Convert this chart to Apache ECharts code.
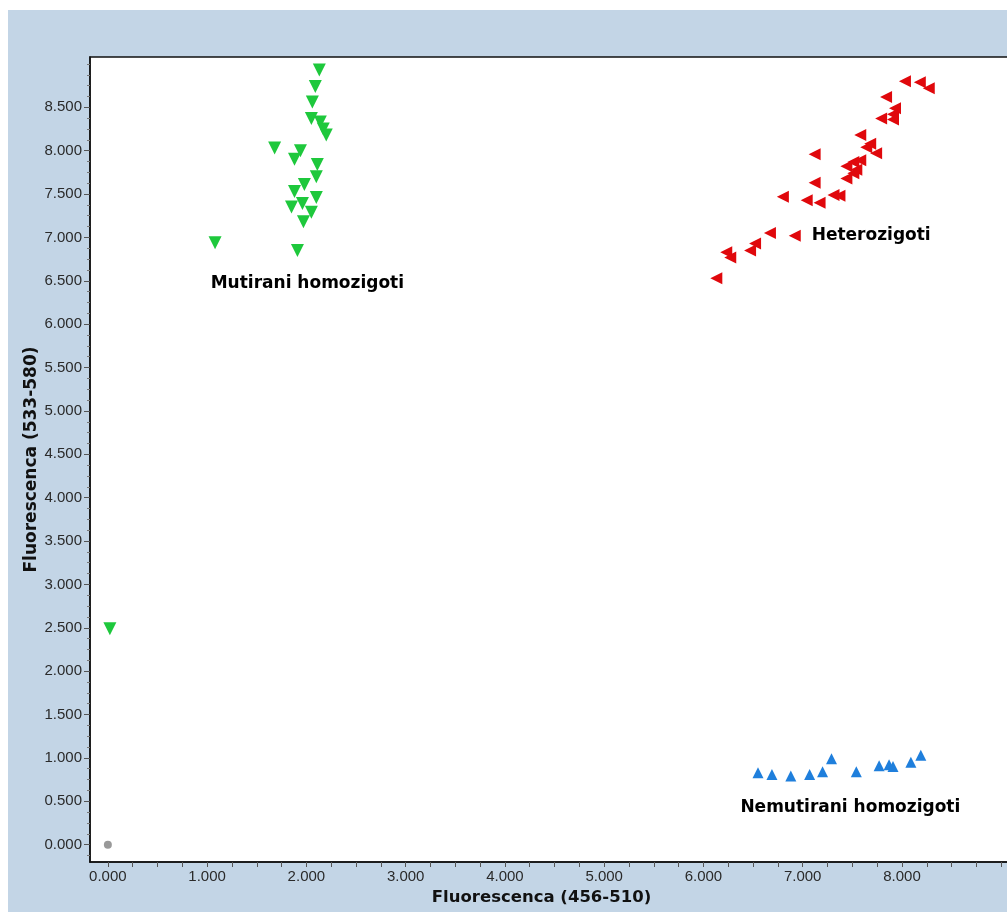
<!DOCTYPE html>
<html>
<head>
<meta charset="utf-8">
<script src="https://cdn.jsdelivr.net/npm/echarts@6/dist/echarts.min.js"></script>
<style>
html,body{margin:0;padding:0;background:#fff;}
#chart{width:1007px;height:912px;}
</style>
</head>
<body>
<div id="chart"></div>
<script>
// ---- data (x: Fluorescenca 456-510, y: Fluorescenca 533-580) ----
const mutiraniX = [2.13, 2.09, 2.06, 2.05, 2.14, 2.17, 2.20, 1.68, 1.94, 1.88, 2.11, 2.10, 1.98, 1.88, 2.10, 1.96, 1.85, 2.05, 1.97, 1.08, 1.91, 0.02];
const mutiraniY = [8.93, 8.74, 8.56, 8.37, 8.33, 8.25, 8.18, 8.03, 8.00, 7.90, 7.84, 7.70, 7.61, 7.53, 7.46, 7.39, 7.35, 7.29, 7.18, 6.94, 6.85, 2.49];

const heteroX = [8.03, 8.18, 8.27, 7.84, 7.93, 7.91, 7.79, 7.91, 7.58, 7.68, 7.64, 7.74, 7.12, 7.58, 7.51, 7.44, 7.54, 7.51, 7.44, 7.12, 6.80, 7.31, 7.37, 7.04, 7.17, 6.67, 6.92, 6.52, 6.47, 6.23, 6.27, 6.13];
const heteroY = [8.80, 8.79, 8.72, 8.62, 8.49, 8.42, 8.37, 8.36, 8.18, 8.08, 8.04, 7.97, 7.96, 7.89, 7.87, 7.82, 7.78, 7.74, 7.68, 7.63, 7.47, 7.49, 7.48, 7.43, 7.40, 7.05, 7.02, 6.93, 6.85, 6.83, 6.77, 6.53];

const nemutiraniX = [6.55, 6.69, 6.88, 7.07, 7.20, 7.29, 7.54, 7.77, 7.87, 7.91, 8.09, 8.19];
const nemutiraniY = [0.83, 0.81, 0.79, 0.81, 0.84, 0.99, 0.84, 0.91, 0.92, 0.90, 0.95, 1.03];

const ntcX = [0.00];
const ntcY = [0.00];

const annotationText = ['Mutirani homozigoti', 'Heterozigoti', 'Nemutirani homozigoti'];
const annotationX = [2.01, 7.69, 7.48];
const annotationY = [6.47, 7.02, 0.43];

const xLabelValues = [0, 1, 2, 3, 4, 5, 6, 7, 8];
const xTickValues = [0, 0.25, 0.5, 0.75, 1, 1.25, 1.5, 1.75, 2, 2.25, 2.5, 2.75, 3, 3.25, 3.5, 3.75, 4, 4.25, 4.5, 4.75, 5, 5.25, 5.5, 5.75, 6, 6.25, 6.5, 6.75, 7, 7.25, 7.5, 7.75, 8, 8.25, 8.5, 8.75, 9, 9.25];
const yLabelValues = [0, 0.5, 1, 1.5, 2, 2.5, 3, 3.5, 4, 4.5, 5, 5.5, 6, 6.5, 7, 7.5, 8, 8.5];
const yMinorTickValues = [-0.125, 0.125, 0.25, 0.375, 0.625, 0.75, 0.875, 1.125, 1.25, 1.375, 1.625, 1.75, 1.875, 2.125, 2.25, 2.375, 2.625, 2.75, 2.875, 3.125, 3.25, 3.375, 3.625, 3.75, 3.875, 4.125, 4.25, 4.375, 4.625, 4.75, 4.875, 5.125, 5.25, 5.375, 5.625, 5.75, 5.875, 6.125, 6.25, 6.375, 6.625, 6.75, 6.875, 7.125, 7.25, 7.375, 7.625, 7.75, 7.875, 8.125, 8.25, 8.375, 8.625, 8.75, 8.875, 9.0];

const xTitle = 'Fluorescenca (456-510)';
const yTitle = 'Fluorescenca (533-580)';

function pairs(xs, ys) { return xs.map((x, i) => [x, ys[i]]); }

const chart = echarts.init(document.getElementById('chart'), null, {renderer: 'canvas'});

const X_MIN = -0.18, X_MAX = 9.3, Y_MIN = -0.2, Y_MAX = 9.08;
const tickFont = {fontFamily: 'Liberation Sans, Arial, sans-serif', fontSize: 15, color: '#2a2a2a'};
const titleFont = {fontFamily: 'DejaVu Sans', fontWeight: 'bold', fontSize: 17, color: '#111'};
const fmt = v => v.toFixed(3);

const option = {
  backgroundColor: '#ffffff',
  animation: false,
  graphic: [{
    type: 'rect', z: -10, silent: true,
    shape: {x: 8, y: 10, width: 1007, height: 912},
    style: {fill: '#c3d5e6'}
  }],
  grid: {
    left: 90, top: 57, height: 805, width: 941,
    outerBoundsMode: 'none', containLabel: false,
    show: true, backgroundColor: '#ffffff', borderColor: '#111', borderWidth: 1.5
  },
  xAxis: [{
    type: 'value', min: X_MIN, max: X_MAX,
    name: xTitle, nameLocation: 'middle', nameGap: 27, nameMoveOverlap: false,
    nameTextStyle: Object.assign({padding: [0, 38, 0, 0]}, titleFont, {fontSize: 16.5}),
    axisLine: {show: true, onZero: false, lineStyle: {color: '#111', width: 1.5}},
    axisTick: {show: true, length: 5, customValues: xTickValues, lineStyle: {color: '#555'}},
    axisLabel: {customValues: xLabelValues, formatter: fmt, margin: 7, ...tickFont},
    splitLine: {show: false}
  }],
  yAxis: [{
    type: 'value', min: Y_MIN, max: Y_MAX,
    name: yTitle, nameLocation: 'middle', nameGap: 50, nameMoveOverlap: false,
    nameTextStyle: titleFont,
    axisLine: {show: true, onZero: false, lineStyle: {color: '#111', width: 1.5}},
    axisTick: {show: true, length: 6, customValues: yLabelValues, lineStyle: {color: '#555'}},
    axisLabel: {customValues: yLabelValues, formatter: fmt, margin: 8, ...tickFont},
    splitLine: {show: false}
  }, {
    type: 'value', min: Y_MIN, max: Y_MAX, position: 'left',
    axisLine: {show: false, onZero: false},
    axisTick: {show: true, length: 3, customValues: yMinorTickValues, lineStyle: {color: '#777'}},
    axisLabel: {show: false},
    splitLine: {show: false}
  }],
  series: [{
    name: 'Mutirani homozigoti', type: 'scatter',
    data: pairs(mutiraniX, mutiraniY),
    symbol: 'triangle', symbolRotate: 180, symbolSize: 13,
    itemStyle: {color: '#1ec83c', opacity: 1}
  }, {
    name: 'Heterozigoti', type: 'scatter',
    data: pairs(heteroX, heteroY),
    symbol: 'triangle', symbolRotate: 90, symbolSize: 12,
    itemStyle: {color: '#e0080c', opacity: 1}
  }, {
    name: 'Nemutirani homozigoti', type: 'scatter',
    data: pairs(nemutiraniX, nemutiraniY),
    symbol: 'triangle', symbolSize: 11,
    itemStyle: {color: '#1f7fdc', opacity: 1}
  }, {
    name: 'NTC', type: 'scatter',
    data: pairs(ntcX, ntcY),
    symbol: 'circle', symbolSize: 8,
    itemStyle: {color: '#808080'}
  }]
};
chart.setOption(option);

// cluster annotations placed in data coordinates
const texts = annotationText.map((t, i) => {
  const p = chart.convertToPixel({gridIndex: 0}, [annotationX[i], annotationY[i]]);
  return {
    type: 'text', z: 100, silent: true, x: p[0], y: p[1],
    style: {text: t, fill: '#000', font: 'bold 17px "DejaVu Sans"', align: 'center', verticalAlign: 'middle'}
  };
});
chart.setOption({graphic: [option.graphic[0]].concat(texts)});
</script>
</body>
</html>
